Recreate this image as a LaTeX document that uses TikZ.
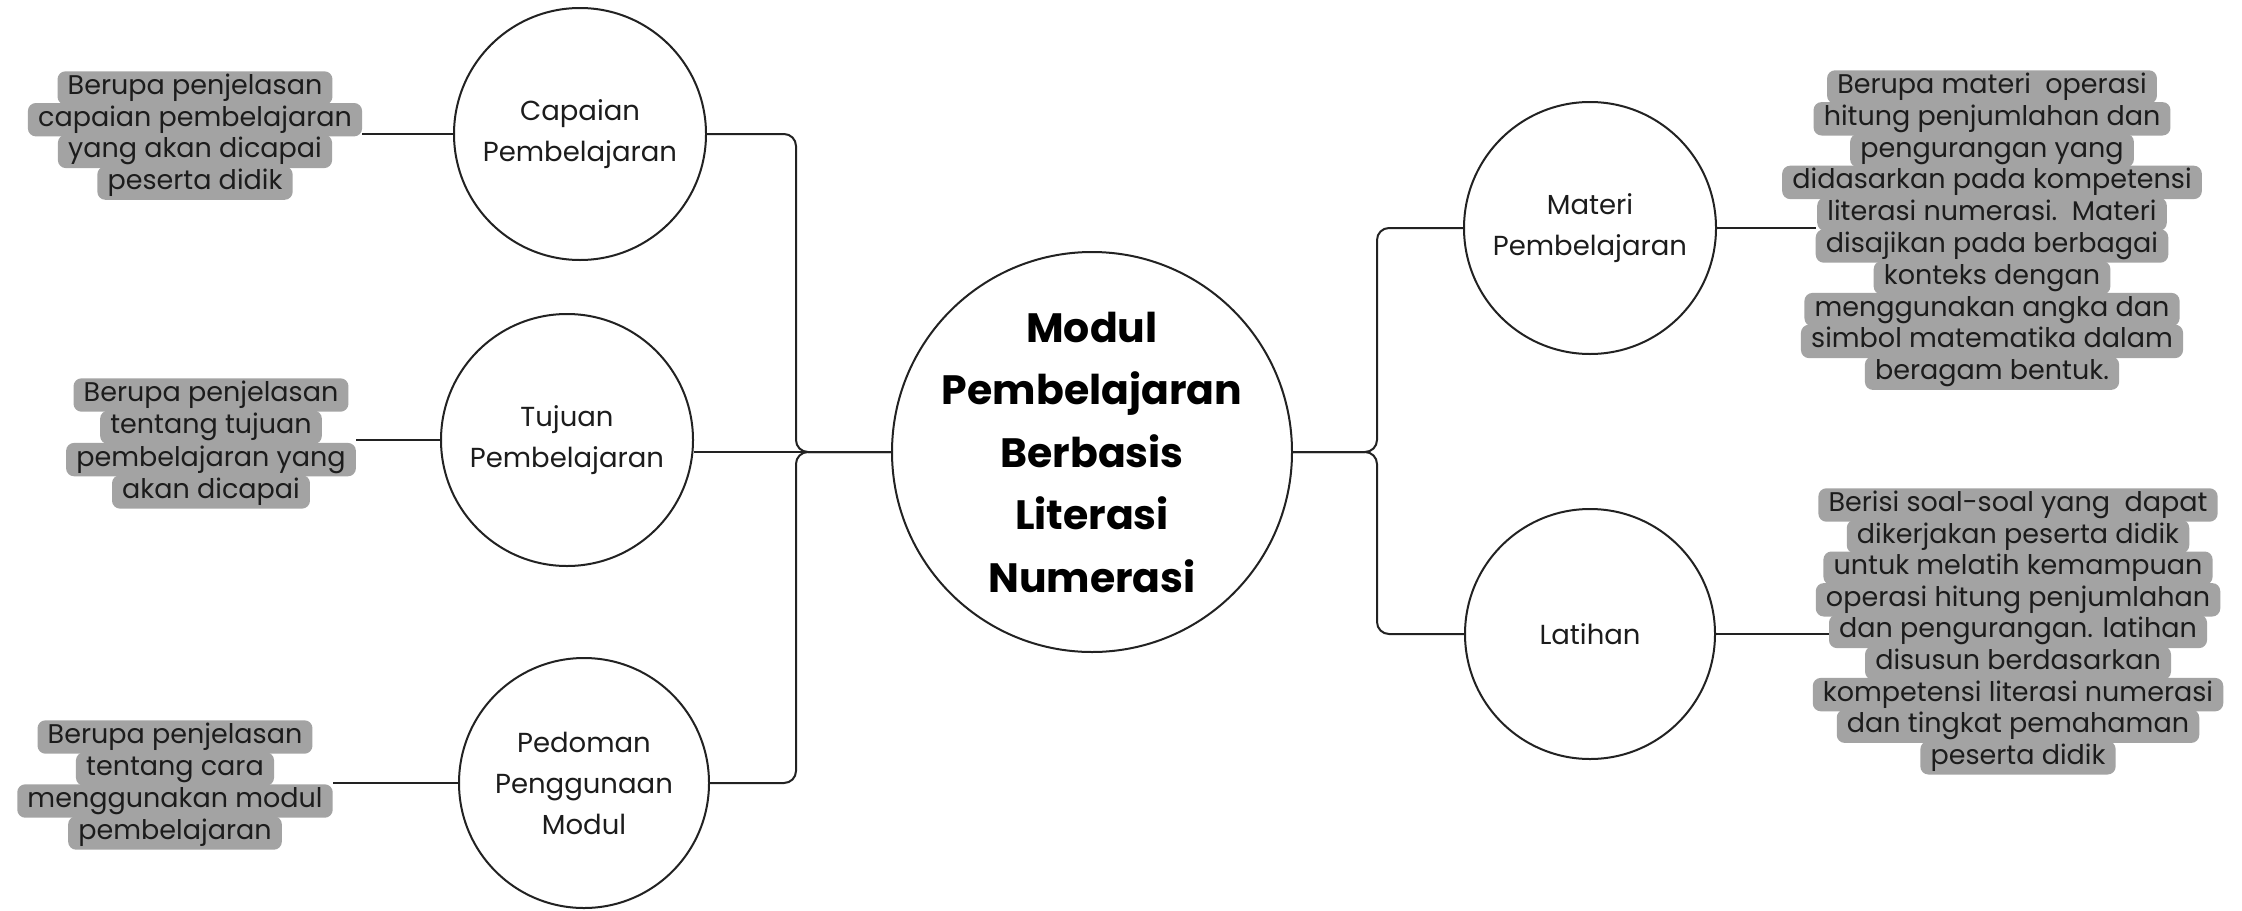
\documentclass[tikz,border=0pt]{standalone}
\usepackage{fontspec}
\setmainfont{Poppins}
\usetikzlibrary{backgrounds}
\definecolor{linec}{HTML}{222222}
\definecolor{txtc}{HTML}{1C1C1C}
\definecolor{hlgray}{HTML}{A3A3A3}
\tikzset{
  bub/.style={circle, draw=linec, line width=2pt, fill=white, inner sep=0pt},
  lbl/.style={align=center, text=txtc, font=\fontsize{27.5}{41}\selectfont},
  ctrlbl/.style={align=center, text=black, font=\fontsize{41}{62.5}\selectfont\bfseries},
  hl/.style={text=txtc, font=\fontsize{27}{32}\selectfont, inner xsep=10pt, inner ysep=0pt,
    text height=20pt, text depth=7pt, minimum height=33pt},
  hlfill/.style={fill=hlgray, rounded corners=8pt},
  conn/.style={draw=linec, line width=2pt},
  brace/.style={conn, rounded corners=12pt}
}
\newcommand{\hlbox}[5]{%
  \foreach \linetext [count=\i] in {#5} {\node[hl] (#1\i) at (#2, {#3+(\i-1)*#4}) {\linetext};}%
  \begin{scope}[on background layer]
    \foreach \linetext [count=\i] in {#5} {\fill[hlfill] (#1\i.north west) rectangle (#1\i.south east);}
  \end{scope}%
}
\begin{document}
\begin{tikzpicture}[x=1pt,y=-1pt]
\useasboundingbox (0,0) rectangle (2242,910);
\begin{scope}[on background layer]
  \fill[white] (0,0) rectangle (2242,910);
\end{scope}

% circles
\node[bub, minimum size=252pt] (cap) at (580,134) {};
\node[lbl] (capt) at (cap) {Capaian\\Pembelajaran};
\node[bub, minimum size=252pt] (tuj) at (567,440) {};
\node[lbl] (tujt) at (tuj) {Tujuan\\Pembelajaran};
\node[bub, minimum size=250pt] (ped) at (584,783) {};
\node[lbl] (pedt) at (ped) {Pedoman\\Penggunaan\\Modul};
\node[bub, minimum size=400pt] (ctr) at (1092,452) {};
\node[ctrlbl] (ctrt) at (ctr) {Modul\\Pembelajaran\\Berbasis\\Literasi\\Numerasi};
\node[bub, minimum size=252pt] (mat) at (1590,228) {};
\node[lbl] (matt) at (mat) {Materi\\Pembelajaran};
\node[bub, minimum size=250pt] (lat) at (1590,634) {};
\node[lbl] (latt) at (lat) {Latihan};

% gray text boxes
\hlbox{cpb}{195}{88}{31.7}{Berupa penjelasan,%
capaian pembelajaran,%
yang akan dicapai,%
peserta didik}
\hlbox{tjb}{211}{395}{32.3}{Berupa penjelasan,%
tentang tujuan,%
pembelajaran yang,%
akan dicapai}
\hlbox{pdb}{175}{737}{32}{Berupa penjelasan,%
tentang cara,%
menggunakan modul,%
pembelajaran}
\hlbox{mtb}{1992}{87}{31.8}{Berupa materi\ \ operasi,%
hitung penjumlahan dan,%
pengurangan yang,%
didasarkan pada kompetensi,%
literasi numerasi.\ \ Materi,%
disajikan pada berbagai,%
konteks dengan,%
menggunakan angka dan,%
simbol matematika dalam,%
beragam bentuk.}
\hlbox{ltb}{2018}{505}{31.6}{Berisi soal-soal yang\ \ dapat,%
dikerjakan peserta didik,%
untuk melatih kemampuan,%
operasi hitung penjumlahan,%
dan pengurangan. latihan,%
disusun berdasarkan,%
kompetensi literasi numerasi,%
dan tingkat pemahaman,%
peserta didik}

% junctions
\coordinate (jl) at (796,452);
\coordinate (jr) at (1377,452);

% brackets
\draw[brace] (cap.east) -| (jl) -- (ctr.west);
\draw[brace] (ped.east) -| (jl) -- (ctr.west);
\draw[conn] (tuj.east |- ctr.west) -- (ctr.west);
\draw[brace] (mat.west) -| (jr) -- (ctr.east);
\draw[brace] (lat.west) -| (jr) -- (ctr.east);

% box connectors
\draw[conn] (cap.west) -- (cpb2.east |- cap.west);
\draw[conn] (tuj.west) -- (tjb3.east |- tuj.west);
\draw[conn] (ped.west) -- (pdb3.east |- ped.west);
\draw[conn] (mat.east) -- (mtb6.west |- mat.east);
\draw[conn] (lat.east) -- (ltb5.west |- lat.east);
\end{tikzpicture}
\end{document}
